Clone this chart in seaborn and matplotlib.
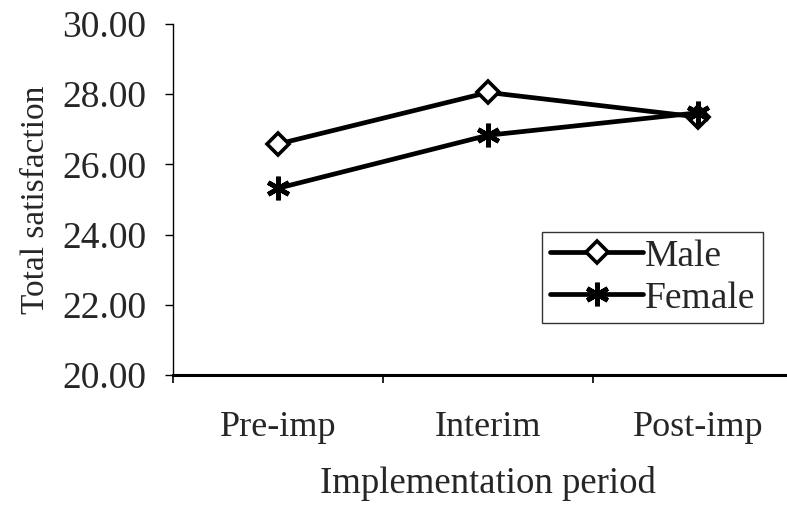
import matplotlib
matplotlib.use("Agg")
import matplotlib.pyplot as plt
import seaborn as sns
import pandas as pd
from matplotlib.lines import Line2D
from matplotlib.ticker import FixedLocator

periods = ["Pre-imp", "Interim", "Post-imp"]
male = [26.58, 28.05, 27.35]
female = [25.32, 26.83, 27.47]
yticks = [20, 22, 24, 26, 28, 30]

df_male = pd.DataFrame({"period": periods, "value": male})
df_female = pd.DataFrame({"period": periods, "value": female})

sns.set_style("white")
plt.rcParams["font.family"] = ["Liberation Serif", "DejaVu Serif"]

fig = plt.figure(figsize=(7.87, 5.07), dpi=100)
ax = fig.add_axes([0.2198, 0.2604, 0.8005, 0.6923])

star = (6, 2, 0)
sns.lineplot(data=df_male, x="period", y="value", color="black", marker="D",
             linewidth=3.4, markersize=11, markeredgecolor="black",
             markerfacecolor="white", markeredgewidth=2.6, sort=False,
             ax=ax, zorder=2, clip_on=False)
sns.lineplot(data=df_female, x="period", y="value", color="black", marker=star,
             linewidth=3.4, markersize=17, markeredgecolor="black",
             markeredgewidth=3.4, sort=False, ax=ax, zorder=3, clip_on=False)

ax.set_xlim(-0.5, 2.5)
ax.set_ylim(20, 30)
ax.set_yticks(yticks)
ax.set_yticklabels([f"{v:.2f}" for v in yticks])
ax.set_xticks(range(len(periods)))
ax.set_xticklabels(periods)
ax.xaxis.set_minor_locator(FixedLocator([-0.5, 0.5, 1.5, 2.5]))
ax.tick_params(axis="x", which="major", length=0, pad=26, labelsize=26)
ax.tick_params(axis="x", which="minor", length=6, width=1.2, direction="out", bottom=True, color="black")
ax.tick_params(axis="y", length=6, width=1.0, direction="out", left=True, pad=13, labelsize=27, color="black")

for s in ["top", "right"]:
    ax.spines[s].set_visible(False)
ax.spines["left"].set_color("black")
ax.spines["left"].set_linewidth(1.0)
ax.spines["bottom"].set_color("black")
ax.spines["bottom"].set_linewidth(2.2)

ax.set_xlabel("Implementation period", fontsize=26.5, labelpad=16)
ax.set_ylabel("Total satisfaction", fontsize=24, labelpad=8)

handles = [
    Line2D([], [], color="black", lw=3.4, marker="D", markersize=11,
           markerfacecolor="white", markeredgecolor="black", markeredgewidth=2.6),
    Line2D([], [], color="black", lw=3.4, marker=star, markersize=17,
           markeredgecolor="black", markeredgewidth=3.4),
]
leg = ax.legend(handles, ["Male", "Female"], loc="lower left",
                bbox_to_anchor=(0.586, 0.148), fontsize=27, frameon=True,
                fancybox=False, edgecolor="black", handlelength=2.5,
                handletextpad=0.05, borderpad=0.2, labelspacing=0.2,
                borderaxespad=0)
leg.get_frame().set_linewidth(1.0)

fig.savefig("out.png", dpi=100)
